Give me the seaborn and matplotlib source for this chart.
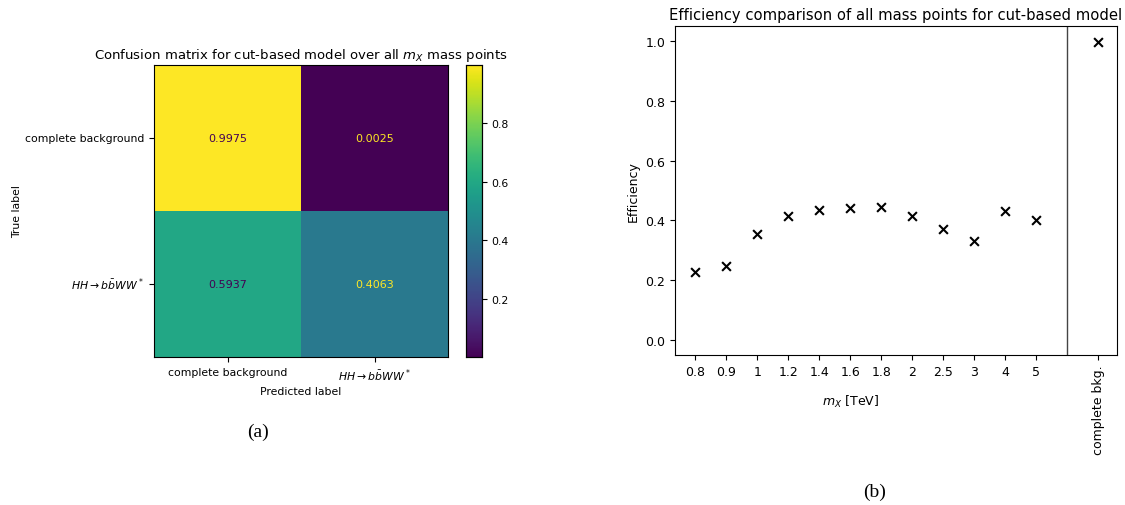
import numpy as np
import pandas as pd
import matplotlib
matplotlib.use("Agg")
import matplotlib.pyplot as plt
import seaborn as sns

# ---- data ----
class_labels = ["complete background", r"$HH \rightarrow b\bar{b}WW^*$"]
cm_row_bkg = [0.9975, 0.0025]
cm_row_sig = [0.5937, 0.4063]

mass_labels = ["0.8", "0.9", "1", "1.2", "1.4", "1.6", "1.8", "2", "2.5", "3", "4", "5"]
mass_eff = [0.228, 0.246, 0.355, 0.416, 0.435, 0.442, 0.446, 0.415, 0.371, 0.332, 0.432, 0.401]
bkg_label = "complete bkg."
bkg_eff = [0.9975]

W, H = 1125, 506
fig = plt.figure(figsize=(W / 100, H / 100), dpi=100)

def box(l, t, r, b):
    return [l / W, 1 - b / H, (r - l) / W, (b - t) / H]

# ---- left: confusion matrix ----
ax1 = fig.add_axes(box(154, 66, 448, 358))
cax = fig.add_axes(box(466, 66, 482, 358))
cm = pd.DataFrame([cm_row_bkg, cm_row_sig], index=class_labels, columns=class_labels)
vmin, vmax = cm.values.min(), cm.values.max()
sns.heatmap(cm, ax=ax1, cbar_ax=cax, cmap="viridis", vmin=vmin, vmax=vmax,
            annot=True, fmt=".4f", annot_kws={"fontsize": 8})
thresh = (vmin + vmax) / 2
cmap = plt.get_cmap("viridis")
flat = cm.values.flatten()
for t, v in zip(ax1.texts, flat):
    t.set_color(cmap(1.0) if v < thresh else cmap(0.0))
for s in ax1.spines.values():
    s.set_visible(True)
    s.set_linewidth(0.8)
ax1.set_title(r"Confusion matrix for cut-based model over all $m_X$ mass points", fontsize=9.5, pad=5)
ax1.set_xlabel("Predicted label", fontsize=7.8, labelpad=2)
ax1.set_ylabel("True label", fontsize=7.8, labelpad=2)
ax1.tick_params(axis="both", labelsize=7.8, length=3.5, width=0.8)
ax1.set_yticklabels(class_labels, rotation=0)
ax1.set_xticklabels(class_labels, rotation=0)
cax.set_yticks([0.2, 0.4, 0.6, 0.8])
cax.tick_params(labelsize=7.8, length=3.5, width=0.8)
for s in cax.spines.values():
    s.set_visible(True)
    s.set_linewidth(0.8)

# ---- right: efficiency comparison ----
ax2 = fig.add_axes(box(675, 27, 1117, 356))
n = len(mass_labels)
xpos = list(range(n)) + [n + 1]
eff_df = pd.DataFrame({"x": xpos, "eff": mass_eff + bkg_eff})
sns.scatterplot(data=eff_df, x="x", y="eff", ax=ax2, marker="x", color="black",
                s=40, linewidth=1.5)
ax2.axvline(n, color="#444444", linewidth=1.0)
ax2.set_xlim(-0.65, n + 1.6)
ax2.set_ylim(-0.05, 1.05)
ax2.set_xticks(xpos)
ax2.set_xticklabels(mass_labels + [bkg_label])
for lab in ax2.get_xticklabels()[-1:]:
    lab.set_rotation(90)
ax2.set_yticks([0.0, 0.2, 0.4, 0.6, 0.8, 1.0])
ax2.tick_params(axis="both", labelsize=9, length=3.5, width=0.8)
ax2.set_ylabel("Efficiency", fontsize=9)
ax2.set_xlabel(r"$m_X$ [TeV]", fontsize=9)
ax2.xaxis.set_label_coords((851 - 675) / 442, -38 / 329)
ax2.set_title("Efficiency comparison of all mass points for cut-based model", fontsize=10.6, pad=5)

# ---- captions ----
fig.text(258 / W, 1 - 432 / H, "(a)", family="Liberation Serif", fontsize=14, ha="center", va="center")
fig.text(875 / W, 1 - 492 / H, "(b)", family="Liberation Serif", fontsize=14, ha="center", va="center")

fig.savefig("out.png", dpi=100)
